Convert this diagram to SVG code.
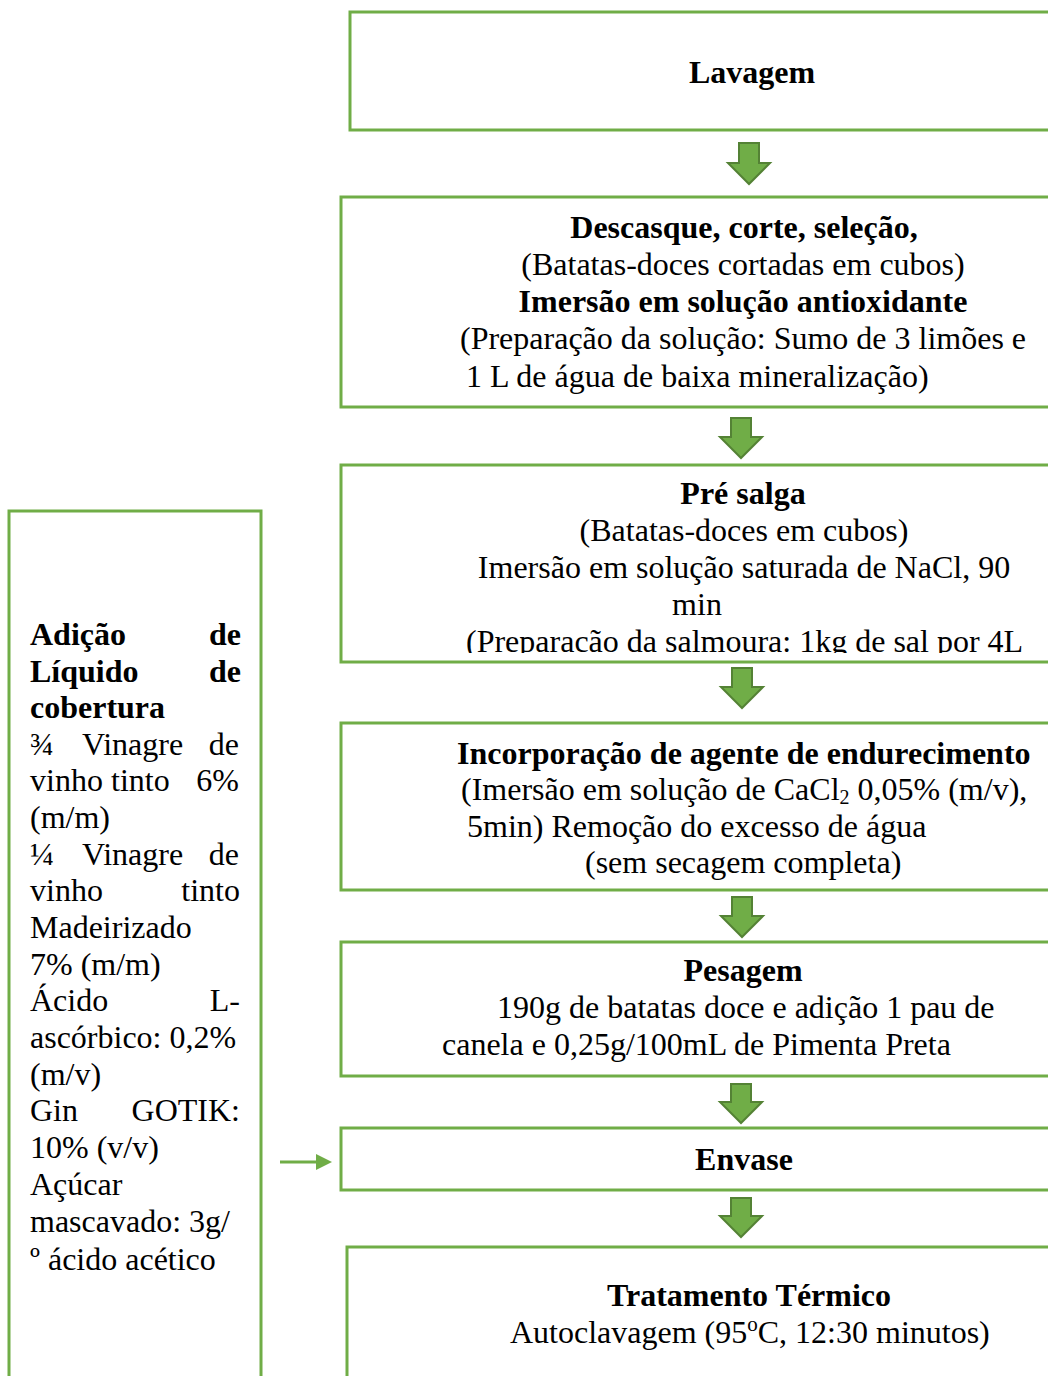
<svg xmlns="http://www.w3.org/2000/svg" width="1048" height="1376" viewBox="0 0 1048 1376">
<style>
.box{fill:#fff;stroke:#70AD47;stroke-width:3}
.arr{fill:#70AD47;stroke:#548235;stroke-width:2;stroke-linejoin:miter}
text{font-family:"Liberation Serif","Times New Roman",serif;font-size:32px;fill:#000}
.b{font-weight:bold}
.c{text-anchor:middle}
.e{text-anchor:end}
</style>
<defs>
<clipPath id="clip3"><rect x="341" y="465" width="720" height="188"/></clipPath>
</defs>
<rect width="1048" height="1376" fill="#fff"/>
<g id="connectors">
<path class="arr" d="M739,143 H759 V163 H770 L749,184 L728,163 H739 Z"/>
<path class="arr" d="M731,418 H751 V437 H762 L741,458 L720,437 H731 Z"/>
<path class="arr" d="M732,668 H752 V687 H763 L742,708 L721,687 H732 Z"/>
<path class="arr" d="M732,897 H752 V916 H763 L742,937 L721,916 H732 Z"/>
<path class="arr" d="M731,1084 H751 V1102 H762 L741,1123 L720,1102 H731 Z"/>
<path class="arr" d="M731,1198 H751 V1216 H762 L741,1237 L720,1216 H731 Z"/>
<line x1="280" y1="1162" x2="318" y2="1162" stroke="#70AD47" stroke-width="3"/>
<path d="M316,1154 L332,1162 L316,1170 Z" fill="#70AD47"/>
</g>
<g id="lavagem">
<rect class="box" x="350" y="12" width="720" height="118"/>
<text class="b c" x="752" y="83">Lavagem</text>
</g>
<g id="descasque">
<rect class="box" x="341" y="197" width="720" height="210"/>
<text class="b c" x="744" y="238">Descasque, corte, seleção,</text>
<text class="c" x="743" y="275">(Batatas-doces cortadas em cubos)</text>
<text class="b c" x="743" y="312">Imersão em solução antioxidante</text>
<text x="460" y="349">(Preparação da solução: Sumo de 3 limões e</text>
<text x="466" y="387">1 L de água de baixa mineralização)</text>
</g>
<g id="presalga">
<rect class="box" x="341" y="465" width="720" height="197"/>
<text class="b c" x="743" y="504">Pré salga</text>
<text class="c" x="744" y="541">(Batatas-doces em cubos)</text>
<text class="c" x="744" y="578">Imersão em solução saturada de NaCl, 90</text>
<text class="c" x="697" y="615">min</text>
<text x="466" y="652" clip-path="url(#clip3)">(Preparacão da salmoura: 1kg de sal por 4L</text>
</g>
<g id="endurecimento">
<rect class="box" x="341" y="723" width="720" height="167"/>
<text class="b" x="457" y="764">Incorporação de agente de endurecimento</text>
<text x="461" y="800">(Imersão em solução de CaCl<tspan font-size="20" dy="4">2</tspan><tspan dy="-4"> 0,05% (m/v),</tspan></text>
<text x="467" y="837">5min) Remoção do excesso de água</text>
<text x="585" y="873">(sem secagem completa)</text>
</g>
<g id="pesagem">
<rect class="box" x="341" y="942" width="720" height="134"/>
<text class="b c" x="743" y="981">Pesagem</text>
<text x="497" y="1018">190g de batatas doce e adição 1 pau de</text>
<text x="442" y="1055">canela e 0,25g/100mL de Pimenta Preta</text>
</g>
<g id="envase">
<rect class="box" x="341" y="1128" width="720" height="62"/>
<text class="b c" x="744" y="1170">Envase</text>
</g>
<g id="tratamento">
<rect class="box" x="347" y="1247" width="720" height="160"/>
<text class="b c" x="749" y="1306">Tratamento Térmico</text>
<text x="510" y="1343">Autoclavagem (95<tspan font-size="21" dy="-12">o</tspan><tspan dy="12">C, 12:30 minutos)</tspan></text>
</g>
<g id="liquido">
<rect class="box" x="9" y="511" width="252" height="900"/>
<text class="b" x="30" y="645">Adição</text><text class="b e" x="241" y="645">de</text>
<text class="b" x="30" y="682">Líquido</text><text class="b e" x="241" y="682">de</text>
<text class="b" x="30" y="718">cobertura</text>
<text x="30" y="755">¾</text><text x="82" y="755">Vinagre</text><text class="e" x="239" y="755">de</text>
<text x="30" y="791">vinho</text><text x="111" y="791">tinto</text><text class="e" x="239" y="791">6%</text>
<text x="30" y="828">(m/m)</text>
<text x="30" y="865">¼</text><text x="82" y="865">Vinagre</text><text class="e" x="239" y="865">de</text>
<text x="30" y="901">vinho</text><text class="e" x="240" y="901">tinto</text>
<text x="30" y="938">Madeirizado</text>
<text x="30" y="975">7% (m/m)</text>
<text x="30" y="1011">Ácido</text><text class="e" x="240" y="1011">L-</text>
<text x="30" y="1048">ascórbico: 0,2%</text>
<text x="30" y="1085">(m/v)</text>
<text x="30" y="1121">Gin</text><text class="e" x="240" y="1121">GOTIK:</text>
<text x="30" y="1158">10% (v/v)</text>
<text x="30" y="1195">Açúcar</text>
<text x="30" y="1232">mascavado: 3g/</text>
<text x="30" y="1270">º ácido acético</text>
</g>
</svg>
